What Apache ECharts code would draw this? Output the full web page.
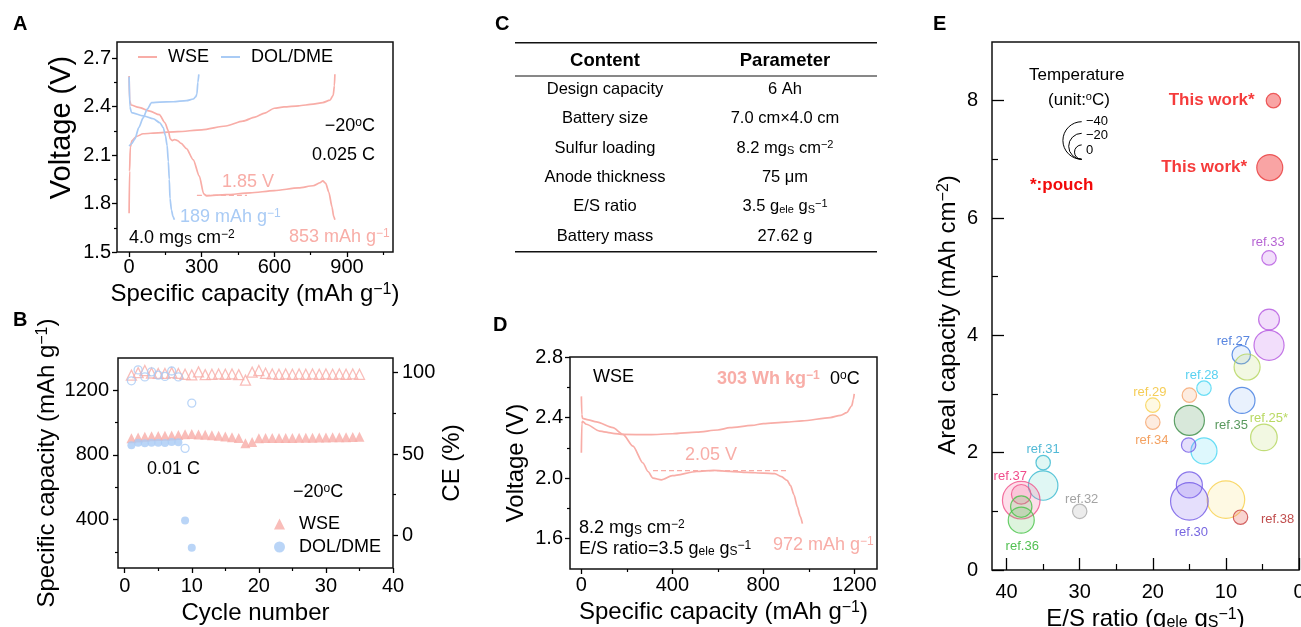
<!DOCTYPE html>
<html><head><meta charset="utf-8">
<script src="https://cdn.jsdelivr.net/npm/echarts@6/dist/echarts.min.js"></script>
<style>html,body{margin:0;padding:0;background:#fff}#c{width:1301px;height:627px}</style>
</head><body><div id="c"></div>
<script>
const FONT = 'Liberation Sans, Arial, sans-serif';
const PINK = '#F8ADA7';
const BLUE = '#A9CBF5';

// ---------- Panel A : voltage profiles at -20 C ----------
const aWseCharge = [[0,1.74],[2,2.0],[5,2.15],[12,2.19],[30,2.215],[58,2.232],[120,2.238],[200,2.245],[300,2.256],[400,2.28],[470,2.31],[520,2.335],[560,2.36],[600,2.39],[640,2.398],[700,2.405],[760,2.415],[800,2.425],[830,2.44],[843,2.47],[848,2.53],[850,2.6]];
const aWseDischarge = [[0,2.59],[2,2.44],[8,2.41],[40,2.395],[86,2.372],[125,2.35],[148,2.3],[162,2.25],[170,2.2],[178,2.19],[188,2.196],[200,2.19],[215,2.172],[237,2.14],[265,2.07],[290,1.97],[308,1.86],[320,1.848],[400,1.855],[500,1.866],[600,1.88],[700,1.897],[760,1.91],[790,1.93],[800,1.94],[812,1.925],[825,1.87],[838,1.78],[845,1.72],[850,1.7]];
const aDolCharge = [[0,2.156],[10,2.17],[24,2.2],[40,2.27],[58,2.33],[75,2.385],[93,2.425],[127,2.428],[182,2.43],[237,2.437],[265,2.447],[275,2.46],[280,2.478],[284,2.55],[288,2.6]];
const aDolDischarge = [[0,2.585],[3,2.4],[10,2.363],[58,2.343],[100,2.325],[127,2.3],[141,2.27],[150,2.22],[157,2.16],[162,2.06],[166,1.95],[169,1.83],[175,1.76],[181,1.72],[187,1.7]];
const aPlateau = [[280,1.85],[487,1.85]];
const aXTicks = [0,300,600,900], aXMinor = [150,450,750,1050];
const aYTicks = [1.5,1.8,2.1,2.4,2.7], aYMinor = [1.65,1.95,2.25,2.55];

// ---------- Panel B : cycling ----------
const bWseCycles = Array.from({length:35},(_,i)=>i+1);
const bWseCap = [903,908,912,915,917,919,921,924,928,930,927,925,922,918,914,910,905,872,880,903,905,905,904,905,905,906,907,907,908,908,909,910,910,911,912];
const bWseCE = [98.5,100,101.3,99.8,99.5,99.5,100,99.5,99,98.6,100.5,98.8,99,99.2,99,99.2,98.8,95.4,100.3,101.3,99.6,99.2,99,99.2,99,99.2,99,99.2,99,99.2,99,99.2,99,99.2,99];
const bDolCycles = [1,2,3,4,5,6,7,8,9,10];
const bDolCap = [860,876,872,876,876,874,880,878,394,226];
const bDolCE = [95,101.7,97.4,100.5,98.5,97.7,101,97.4,53.5,81.3];
const bXTicks = [0,10,20,30,40], bXMinor = [5,15,25,35];
const bYTicks = [400,800,1200], bYMinor = [200,600,1000];
const bCeTicks = [0,50,100], bCeMinor = [25,75];

// ---------- Panel C : table ----------
const cHeader = ['Content','Parameter'];
const cContent = ['Design capacity','Battery size','Sulfur loading','Anode thickness','E/S ratio','Battery mass'];
const cParam = ['6 Ah','7.0 cm×4.0 cm','8.2 mg{sub|S} cm{sup|−2}','75 μm','3.5 g{sub|ele} g{sub|S}{sup|−1}','27.62 g'];

// ---------- Panel D : pouch cell at 0 C ----------
const dDischarge = [[0,2.54],[2,2.42],[5,2.395],[30,2.385],[66,2.371],[139,2.333],[183,2.289],[227,2.211],[271,2.1],[293,2.044],[315,2.0],[352,1.989],[400,2.016],[507,2.044],[581,2.051],[653,2.045],[728,2.038],[801,2.033],[850,2.03],[880,2.01],[905,1.985],[920,1.95],[935,1.89],[950,1.81],[962,1.75],[972,1.7]];
const dCharge = [[0,2.167],[2,2.36],[5,2.375],[22,2.356],[80,2.311],[139,2.296],[183,2.289],[300,2.287],[400,2.293],[507,2.304],[600,2.318],[653,2.333],[750,2.348],[801,2.36],[900,2.37],[971,2.378],[1094,2.4],[1140,2.415],[1167,2.433],[1189,2.478],[1196,2.52],[1200,2.556]];
const dPlateau = [[315,2.05],[903,2.05]];
const dXTicks = [0,400,800,1200], dXMinor = [200,600,1000];
const dYTicks = [1.6,2.0,2.4,2.8], dYMinor = [1.8,2.2,2.6];

// ---------- Panel E : comparison bubbles ----------
const eName  = ['This work*','This work*','ref.33','ref.33','ref.33','ref.27','ref.27','ref.25*','ref.25*','ref.28','ref.28','ref.34','ref.34','ref.29','ref.29','ref.35','ref.30','ref.30','ref.30','ref.31','ref.31','ref.37','ref.37','ref.36','ref.36','ref.32','ref.38'];
const eRatio = [3.5,4.0,4.1,4.1,4.1,7.9,7.8,7.1,4.8,13,13,15,20,20,10,15,15.1,15,15,35,35,38,38,38,38,30,8];
const eCap   = [8.0,6.86,5.32,4.27,3.83,3.67,2.89,3.46,2.26,3.10,2.03,2.98,2.52,2.81,1.20,2.55,2.13,1.45,1.17,1.83,1.44,1.19,1.29,1.08,0.85,1.00,0.90];
const eTemp  = [0,-20,0,-11,-27,-7,-20,-20,-21,0,-20,0,0,0,-40,-27,0,-20,-40,0,-26,-40,-9,-12,-20,0,0];
const eLegendTemps = [-40,-20,0];
const eXTicks = [0,10,20,30,40], eXMinor = [5,15,25,35];
const eYTicks = [0,2,4,6,8], eYMinor = [1,3,5,7];

// styles (colours per reference group)
const eStyle = {
  'This work*': {b:'#E8383A', f:'rgba(242,70,70,0.62)', t:'#F20A0A'},
  'ref.33': {b:'#B455E0', f:'rgba(200,120,240,0.30)', t:'#A43CC8'},
  'ref.27': {b:'#3F7BE0', f:'rgba(120,170,240,0.20)', t:'#2F68D8'},
  'ref.25*': {b:'#B3D55A', f:'rgba(190,220,110,0.25)', t:'#A8CF3C'},
  'ref.28': {b:'#45D6F2', f:'rgba(90,220,245,0.25)', t:'#2FC6EC'},
  'ref.34': {b:'#F5A36A', f:'rgba(245,160,100,0.25)', t:'#F08A3A'},
  'ref.29': {b:'#F7D04A', f:'rgba(250,215,80,0.20)', t:'#F2C12E'},
  'ref.35': {b:'#3A8C45', f:'rgba(60,140,70,0.25)', t:'#2E7E35'},
  'ref.30': {b:'#7058E6', f:'rgba(140,110,240,0.28)', t:'#5540D8'},
  'ref.31': {b:'#35B8D0', f:'rgba(80,210,190,0.22)', t:'#25A8CC'},
  'ref.37': {b:'#F0508A', f:'rgba(245,110,160,0.28)', t:'#EC1E6E'},
  'ref.36': {b:'#45C245', f:'rgba(90,200,90,0.25)', t:'#25B025'},
  'ref.32': {b:'#A8A8A8', f:'rgba(160,160,160,0.25)', t:'#8C8C8C'},
  'ref.38': {b:'#C84040', f:'rgba(235,120,110,0.40)', t:'#B02222'}
};
// which point of each group carries the text, and where
const eLabelPlace = {
  'ref.33': {i:0, off:[-1,-15]}, 'ref.27': {i:0, off:[-8,-13]}, 'ref.25*': {i:1, off:[5,-19]},
  'ref.28': {i:0, off:[-2,-13]}, 'ref.34': {i:1, off:[-1,18]}, 'ref.29': {i:0, off:[-3,-13]},
  'ref.35': {i:0, off:[42,5]}, 'ref.30': {i:2, off:[2,31]}, 'ref.31': {i:0, off:[0,-13]},
  'ref.37': {i:0, off:[-11,-24]}, 'ref.36': {i:1, off:[1,26]}, 'ref.32': {i:0, off:[2,-12]},
  'ref.38': {i:0, off:[37,2]}
};
const sizeOf = t => 14.4 - 0.58 * t;

// ---------- helpers ----------
function rich(color, size, weight) {
  const s = Math.round(size * 0.66);
  return {
    sup: {fontSize: s, fill: color, color: color, fontFamily: FONT, fontWeight: weight || 'normal', verticalAlign: 'top'},
    sub: {fontSize: s, fill: color, color: color, fontFamily: FONT, fontWeight: weight || 'normal', verticalAlign: 'bottom'}
  };
}
function txt(x, y, text, o) {
  o = o || {};
  const size = o.size || 18, color = o.color || '#000', weight = o.weight || 'normal';
  return {type: 'text', x: x, y: y, z: 100, silent: true,
    style: {text: text, fontSize: size, fontFamily: FONT, fontWeight: weight, fill: color,
      align: o.align || 'left', verticalAlign: 'middle', rich: rich(color, size, weight)}};
}
function nameStyle(size, pad) {
  return {fontSize: size, fontFamily: FONT, color: '#000', padding: pad || 0, rich: rich('#000', size)};
}
function majorAxis(grid, min, max, ticks, o) {
  o = o || {};
  const ax = {
    type: 'value', gridIndex: grid, min: min, max: max, inverse: !!o.inverse,
    position: o.position, splitLine: {show: false},
    axisLine: {show: false, onZero: false},
    axisTick: {show: true, inside: !!o.inside, length: o.tickLen || 5, customValues: ticks, lineStyle: {color: '#000', width: 1.3}},
    axisLabel: {show: true, customValues: ticks, fontSize: 20, fontFamily: FONT, color: '#000', margin: o.margin == null ? 6 : o.margin,
      formatter: o.fmt || (v => String(v))}
  };
  if (o.name) {
    ax.name = o.name; ax.nameLocation = 'middle'; ax.nameGap = o.nameGap;
    ax.nameTextStyle = nameStyle(o.nameSize || 24, o.namePad);
  }
  return ax;
}
function minorAxis(grid, min, max, ticks, o) {
  o = o || {};
  return {
    type: 'value', gridIndex: grid, min: min, max: max, inverse: !!o.inverse, position: o.position,
    splitLine: {show: false}, axisLine: {show: false, onZero: false}, axisLabel: {show: false},
    axisTick: {show: true, inside: !!o.inside, length: o.tickLen || 3, customValues: ticks, lineStyle: {color: '#000', width: 1.2}}
  };
}
const f1 = v => v.toFixed(1);
const gridBox = {show: true, borderColor: '#111', borderWidth: 1.5, backgroundColor: 'transparent',
  containLabel: false, outerBoundsMode: 'none'};

// ---------- series ----------
const lineS = (name, data, color, xi, yi, dashed) => ({
  type: 'line', name: name, xAxisIndex: xi, yAxisIndex: yi, data: data, symbol: 'none',
  smooth: dashed ? false : 0.25, smoothMonotone: 'x',
  lineStyle: {color: color, width: dashed ? 1.3 : 1.7, type: dashed ? [5, 3] : 'solid'},
  itemStyle: {color: color}
});
const zip = (xs, ys) => xs.map((x, i) => [x, ys[i]]);

const series = [
  lineS('WSE', aWseCharge, PINK, 0, 0), lineS('WSE', aWseDischarge, PINK, 0, 0),
  lineS('DOL/DME', aDolCharge, BLUE, 0, 0), lineS('DOL/DME', aDolDischarge, BLUE, 0, 0),
  lineS('1.85 V', aPlateau, PINK, 0, 0, true),
  {type: 'scatter', name: 'WSE CE', xAxisIndex: 2, yAxisIndex: 4, data: zip(bWseCycles, bWseCE), symbol: 'triangle', symbolSize: 10,
    itemStyle: {color: 'rgba(255,255,255,0)', borderColor: PINK, borderWidth: 1.3}},
  {type: 'scatter', name: 'DOL CE', xAxisIndex: 2, yAxisIndex: 4, data: zip(bDolCycles, bDolCE), symbol: 'circle', symbolSize: 8,
    itemStyle: {color: 'rgba(255,255,255,0)', borderColor: BLUE, borderWidth: 1.3}},
  {type: 'scatter', name: 'WSE ', xAxisIndex: 2, yAxisIndex: 2, data: zip(bWseCycles, bWseCap), symbol: 'triangle', symbolSize: 10,
    itemStyle: {color: PINK}},
  {type: 'scatter', name: 'DOL/DME ', xAxisIndex: 2, yAxisIndex: 2, data: zip(bDolCycles, bDolCap), symbol: 'circle', symbolSize: 8,
    itemStyle: {color: BLUE}},
  lineS('D discharge', dDischarge, PINK, 4, 6), lineS('D charge', dCharge, PINK, 4, 6),
  lineS('2.05 V', dPlateau, PINK, 4, 6, true)
];

// bubbles, one series per reference
const groups = [];
eName.forEach(n => { if (!groups.includes(n)) groups.push(n); });
groups.forEach(n => {
  const st = eStyle[n];
  const idx = eName.map((m, i) => m === n ? i : -1).filter(i => i >= 0);
  const data = idx.map((i, k) => {
    const item = {value: [eRatio[i], eCap[i], eTemp[i]]};
    if (n === 'This work*') {
      item.label = {show: true, position: 'left', distance: k === 0 ? 11 : 9, formatter: n,
        color: st.t, fontSize: 17, fontWeight: 'bold', fontFamily: FONT};
    } else if (eLabelPlace[n] && eLabelPlace[n].i === k) {
      item.label = {show: true, position: 'inside', offset: eLabelPlace[n].off, formatter: n,
        color: st.t, fontSize: 13, fontFamily: FONT};
    }
    return item;
  });
  series.push({type: 'scatter', name: n, xAxisIndex: 6, yAxisIndex: 8, data: data,
    symbolSize: v => sizeOf(v[2]),
    itemStyle: {color: st.f, borderColor: st.b, borderWidth: 1.2},
    label: {show: false}, z: 3});
});

// ---------- graphic: panel letters, annotations, table, size legend ----------
const g = [];
[['A',13,24],['B',13,320.5],['C',495,24],['D',493,325.5],['E',933,24.5]].forEach(p =>
  g.push(txt(p[1], p[2], p[0], {size: 20, weight: 'bold'})));
// panel A notes
g.push(txt(375, 126, '−20{sup|o}C', {align: 'right'}));
g.push(txt(375, 155, '0.025 C', {align: 'right'}));
g.push(txt(222, 182, '1.85 V', {color: PINK}));
g.push(txt(180, 217, '189 mAh g{sup|−1}', {color: BLUE}));
g.push(txt(129, 238, '4.0 mg{sub|S} cm{sup|−2}'));
g.push(txt(289, 237, '853 mAh g{sup|−1}', {color: PINK}));
// panel B notes
g.push(txt(147, 469, '0.01 C'));
g.push(txt(293, 492, '−20{sup|o}C'));
// panel D notes
g.push(txt(593, 377, 'WSE'));
g.push(txt(717, 379, '303 Wh kg{sup|−1}', {color: PINK, weight: 'bold'}));
g.push(txt(830, 379, '0{sup|o}C'));
g.push(txt(685, 455, '2.05 V', {color: PINK}));
g.push(txt(579, 528, '8.2 mg{sub|S} cm{sup|−2}'));
g.push(txt(579, 549, 'E/S ratio=3.5 g{sub|ele} g{sub|S}{sup|−1}'));
g.push(txt(773, 545, '972 mAh g{sup|−1}', {color: PINK}));
// panel C table
const tL = 515, tR = 877, c1 = 605, c2 = 785;
g.push({type: 'line', shape: {x1: tL, y1: 42.7, x2: tR, y2: 42.7}, style: {stroke: '#111', lineWidth: 1.5}});
g.push({type: 'line', shape: {x1: tL, y1: 76, x2: tR, y2: 76}, style: {stroke: '#111', lineWidth: 1}});
g.push({type: 'line', shape: {x1: tL, y1: 251.7, x2: tR, y2: 251.7}, style: {stroke: '#111', lineWidth: 1.5}});
g.push(txt(c1, 60.5, cHeader[0], {size: 18.5, weight: 'bold', align: 'center'}));
g.push(txt(c2, 60.5, cHeader[1], {size: 18.5, weight: 'bold', align: 'center'}));
cContent.forEach((t, i) => {
  const y = 89.3 + i * 29.35;
  g.push(txt(c1, y, t, {size: 16.5, align: 'center'}));
  g.push(txt(c2, y, cParam[i], {size: 16.5, align: 'center'}));
});
// panel E legend
g.push(txt(1076.7, 75, 'Temperature', {size: 17, align: 'center'}));
g.push(txt(1079, 100, '(unit:{sup|o}C)', {size: 17, align: 'center'}));
const arcBottom = 159.3, arcX = 1081.7;
eLegendTemps.forEach((t, i) => {
  const r = sizeOf(t) / 2;
  g.push({type: 'arc', shape: {cx: arcX, cy: arcBottom - r, r: r, startAngle: Math.PI / 2, endAngle: Math.PI * 1.5},
    style: {stroke: '#000', fill: 'none', lineWidth: 1}});
  g.push(txt(1086, 121 + i * 14.5, t === 0 ? '0' : '−' + Math.abs(t), {size: 13}));
});
g.push(txt(1030, 185.7, '*:pouch', {size: 17, weight: 'bold', color: '#F20A0A'}));

const option = {
  animation: false,
  backgroundColor: '#fff',
  textStyle: {fontFamily: FONT},
  grid: [
    Object.assign({left: 117, top: 42, width: 276, height: 210}, gridBox),
    Object.assign({left: 118, top: 358, width: 275, height: 210}, gridBox),
    Object.assign({left: 570, top: 357, width: 307, height: 212}, gridBox),
    Object.assign({left: 992, top: 42, width: 307, height: 528}, gridBox)
  ],
  xAxis: [
    majorAxis(0, -50, 1090, aXTicks, {position: 'bottom', margin: 5, name: 'Specific capacity (mAh g{sup|−1})', nameGap: 30}),
    minorAxis(0, -50, 1090, aXMinor, {position: 'bottom'}),
    majorAxis(1, -1, 40, bXTicks, {position: 'bottom', margin: 8, name: 'Cycle number', nameGap: 33}),
    minorAxis(1, -1, 40, bXMinor, {position: 'bottom'}),
    majorAxis(2, -50, 1300, dXTicks, {position: 'bottom', margin: 6, name: 'Specific capacity (mAh g{sup|−1})', nameGap: 31}),
    minorAxis(2, -50, 1300, dXMinor, {position: 'bottom'}),
    majorAxis(3, 0, 42, eXTicks, {position: 'bottom', inverse: true, inside: true, tickLen: 12, margin: 12, name: 'E/S ratio (g{sub|ele} g{sub|S}{sup|−1})', nameGap: 32}),
    minorAxis(3, 0, 42, eXMinor, {position: 'bottom', inverse: true, inside: true, tickLen: 6})
  ],
  yAxis: [
    majorAxis(0, 1.5, 2.8, aYTicks, {position: 'left', margin: 6, fmt: f1, name: 'Voltage (V)', nameGap: 41, nameSize: 29, namePad: [0, 0, 0, 39]}),
    minorAxis(0, 1.5, 2.8, aYMinor, {position: 'left'}),
    majorAxis(1, 100, 1400, bYTicks, {position: 'left', margin: 9, name: 'Specific capacity (mAh g{sup|−1})', nameGap: 59}),
    minorAxis(1, 100, 1400, bYMinor, {position: 'left'}),
    majorAxis(1, -20, 109, bCeTicks, {position: 'right', margin: 9, name: 'CE (%)', nameGap: 47}),
    minorAxis(1, -20, 109, bCeMinor, {position: 'right'}),
    majorAxis(2, 1.4, 2.8, dYTicks, {position: 'left', margin: 7, fmt: f1, name: 'Voltage (V)', nameGap: 42}),
    minorAxis(2, 1.4, 2.8, dYMinor, {position: 'left'}),
    majorAxis(3, 0, 9, eYTicks, {position: 'left', inside: true, tickLen: 12, margin: 14, name: 'Areal capacity (mAh cm{sup|−2})', nameGap: 32, namePad: [0, 18, 0, 0]}),
    minorAxis(3, 0, 9, eYMinor, {position: 'left', inside: true, tickLen: 6})
  ],
  legend: [
    {data: [{name: 'WSE', icon: 'rect'}, {name: 'DOL/DME', icon: 'rect'}], left: 138, top: 48, padding: 0,
      itemWidth: 19, itemHeight: 2, itemGap: 12, selectedMode: false,
      textStyle: {fontSize: 18, fontFamily: FONT, color: '#000', padding: [0, 0, 0, 6]}},
    {data: ['WSE ', 'DOL/DME '], orient: 'vertical', left: 274, top: 515, padding: 0,
      itemWidth: 11, itemHeight: 11, itemGap: 5, selectedMode: false,
      textStyle: {fontSize: 18, fontFamily: FONT, color: '#000', padding: [0, 0, 0, 9]}}
  ],
  series: series,
  graphic: g
};
const chart = echarts.init(document.getElementById('c'), null, {renderer: 'canvas'});
chart.setOption(option);
</script></body></html>
